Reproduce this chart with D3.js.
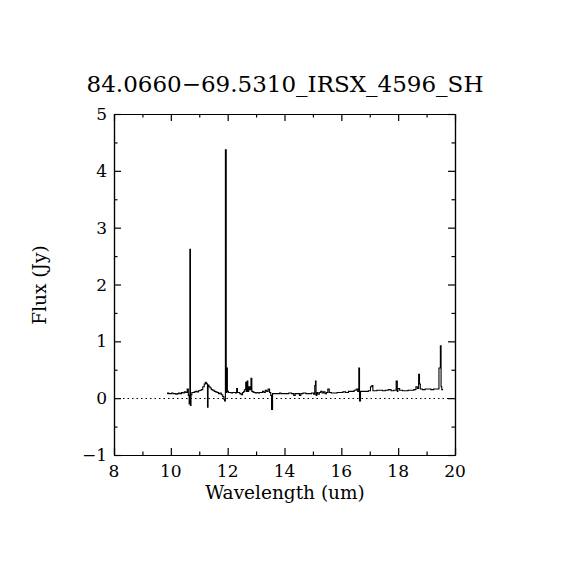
<!DOCTYPE html>
<html>
<head>
<meta charset="utf-8">
<script src="https://cdn.jsdelivr.net/npm/d3@7"></script>
<style>
  body { margin: 0; background: #fff; }
  text { font-family: "DejaVu Serif", "Liberation Serif", serif; fill: #000; }
</style>
</head>
<body>
<svg id="chart" width="570" height="570"></svg>
<script>
var title = '84.0660\u221269.5310_IRSX_4596_SH';
var xLabel = 'Wavelength (um)';
var yLabel = 'Flux (Jy)';

var xTicks = [8, 10, 12, 14, 16, 18, 20];
var yTicks = [-1, 0, 1, 2, 3, 4, 5];

// wavelength (um) and flux (Jy)
var wave = [
  9.87, 9.9, 9.95, 10.0, 10.05, 10.1, 10.15, 10.2, 10.25, 10.3, 10.35, 10.4, 10.45, 10.5, 10.55,
  10.6, 10.63, 10.66, 10.68, 10.7, 10.72, 10.76, 10.8, 10.85, 10.9, 10.95, 11.0, 11.05, 11.1,
  11.15, 11.2, 11.23, 11.26, 11.28, 11.3, 11.32, 11.36, 11.4, 11.45, 11.5, 11.55, 11.6, 11.65,
  11.7, 11.75, 11.8, 11.85, 11.88, 11.9, 11.94, 11.96, 11.98, 12.0, 12.05, 12.1, 12.15, 12.2,
  12.25, 12.3, 12.33, 12.36, 12.4, 12.45, 12.5, 12.55, 12.58, 12.62, 12.65, 12.67, 12.7, 12.72,
  12.76, 12.8, 12.84, 12.86, 12.9, 12.95, 13.0, 13.05, 13.1, 13.15, 13.2, 13.25, 13.3, 13.35,
  13.4, 13.45, 13.5, 13.53, 13.56, 13.6, 13.7, 13.8, 13.85, 13.9, 14.0, 14.1, 14.2, 14.3, 14.35,
  14.4, 14.5, 14.55, 14.6, 14.7, 14.8, 14.9, 15.0, 15.05, 15.08, 15.1, 15.12, 15.15, 15.2, 15.25,
  15.3, 15.35, 15.4, 15.45, 15.5, 15.55, 15.6, 15.7, 15.8, 15.9, 16.0, 16.1, 16.2, 16.3, 16.4,
  16.5, 16.55, 16.6, 16.63, 16.65, 16.7, 16.8, 16.9, 17.0, 17.05, 17.1, 17.12, 17.2, 17.3, 17.4,
  17.5, 17.6, 17.7, 17.8, 17.9, 17.96, 17.98, 18.0, 18.1, 18.2, 18.3, 18.4, 18.5, 18.6, 18.65,
  18.7, 18.74, 18.76, 18.8, 18.9, 19.0, 19.1, 19.2, 19.3, 19.4, 19.47, 19.5, 19.52, 19.55, 19.58
];
var flux = [
  0.08, 0.09, 0.08, 0.08, 0.09, 0.08, 0.08, 0.07, 0.08, 0.09, 0.08, 0.10, 0.09, 0.11, 0.10,
  0.16, 0.05, -0.10, 2.62, -0.13, 0.06, 0.10, 0.10, 0.11, 0.12, 0.11, 0.13, 0.14, 0.15,
  0.20, 0.25, 0.28, 0.26, 0.25, -0.16, 0.23, 0.20, 0.18, 0.15, 0.14, 0.12, 0.11, 0.10,
  0.08, 0.09, 0.06, 0.03, -0.02, -0.05, 4.37, 0.10, 0.53, 0.12, 0.10, 0.10, 0.09, 0.10,
  0.10, 0.09, 0.17, 0.10, 0.10, 0.08, 0.06, 0.10, 0.12, 0.15, 0.28, 0.12, 0.30, 0.12,
  0.20, 0.15, 0.35, 0.12, 0.11, 0.10, 0.09, 0.10, 0.09, 0.10, 0.10, 0.12, 0.10, 0.14,
  0.12, 0.16, 0.10, 0.05, -0.20, 0.08, 0.08, 0.08, 0.09, 0.08, 0.08, 0.08, 0.09, 0.08, 0.05,
  0.08, 0.08, 0.05, 0.08, 0.09, 0.08, 0.08, 0.09, 0.07, 0.22, 0.30, 0.05, 0.10, 0.07, 0.10,
  0.12, 0.09, 0.11, 0.08, 0.10, 0.16, 0.10, 0.09, 0.09, 0.10, 0.10, 0.11, 0.10, 0.12, 0.12,
  0.14, 0.16, 0.12, 0.53, -0.05, 0.12, 0.12, 0.12, 0.13, 0.20, 0.22, 0.13, 0.13, 0.14, 0.14,
  0.13, 0.14, 0.15, 0.13, 0.14, 0.30, 0.12, 0.17, 0.14, 0.13, 0.13, 0.14, 0.14, 0.15, 0.20,
  0.17, 0.42, 0.25, 0.16, 0.15, 0.16, 0.16, 0.15, 0.16, 0.16, 0.53, 0.92, 0.20, 0.15, 0.15
];

var mLeft = 114, mRight = 455, mTop = 114, mBottom = 455;

var svg = d3.select('#chart');

var x = d3.scaleLinear().domain([8, 20]).range([mLeft, mRight]);
var y = d3.scaleLinear().domain([-1, 5]).range([mBottom, mTop]);

// zero line
svg.append('line')
    .attr('x1', x(8)).attr('x2', x(20))
    .attr('y1', Math.round(y(0)) + 0.5).attr('y2', Math.round(y(0)) + 0.5)
    .attr('stroke', '#000')
    .attr('stroke-width', 1)
    .attr('stroke-dasharray', '1.5,3');

// spectrum
var line = d3.line()
    .x(function(d, i) { return x(wave[i]); })
    .y(function(d) { return y(d); })
    .curve(d3.curveStep);

svg.append('path')
    .datum(flux)
    .attr('d', line)
    .attr('fill', 'none')
    .attr('stroke', '#000')
    .attr('stroke-width', 1.1);

// frame with inward ticks on every side
var xMinor = d3.range(9, 20, 2);
var yMinor = d3.range(-0.5, 5, 1);

function frameAxis(axis, pos, ticks, size) {
  var horiz = (axis === d3.axisBottom || axis === d3.axisTop);
  var scale = horiz ? x : y;
  svg.append('g')
      .attr('transform', horiz ? 'translate(0,' + pos + ')' : 'translate(' + pos + ',0)')
      .call(axis(scale).tickValues(ticks).tickSize(-size).tickSizeOuter(0).tickFormat(''));
}
frameAxis(d3.axisBottom, mBottom, xTicks, 7);
frameAxis(d3.axisBottom, mBottom, xMinor, 3.5);
frameAxis(d3.axisTop, mTop, xTicks, 7);
frameAxis(d3.axisTop, mTop, xMinor, 3.5);
frameAxis(d3.axisLeft, mLeft, yTicks, 7);
frameAxis(d3.axisLeft, mLeft, yMinor, 3.5);
frameAxis(d3.axisRight, mRight, yTicks, 7);
frameAxis(d3.axisRight, mRight, yMinor, 3.5);

svg.selectAll('.domain').attr('stroke', '#000').attr('stroke-width', 1.2);
svg.selectAll('.tick line').attr('stroke', '#000').attr('stroke-width', 1.2);

// tick labels
svg.append('g').selectAll('text')
    .data(xTicks)
    .join('text')
    .attr('x', function(d) { return x(d); })
    .attr('y', mBottom + 22)
    .attr('text-anchor', 'middle')
    .attr('font-size', 17)
    .text(function(d) { return d; });

svg.append('g').selectAll('text')
    .data(yTicks)
    .join('text')
    .attr('x', mLeft - 7)
    .attr('y', function(d) { return y(d) + 6; })
    .attr('text-anchor', 'end')
    .attr('font-size', 17)
    .text(function(d) { return d < 0 ? '\u2212' + (-d) : d; });

// titles
svg.append('text')
    .attr('x', 285).attr('y', 92)
    .attr('text-anchor', 'middle')
    .attr('font-size', 23)
    .text(title);

svg.append('text')
    .attr('x', 285).attr('y', 499)
    .attr('text-anchor', 'middle')
    .attr('font-size', 18.5)
    .text(xLabel);

svg.append('text')
    .attr('transform', 'translate(46,285) rotate(-90)')
    .attr('text-anchor', 'middle')
    .attr('font-size', 18.5)
    .text(yLabel);
</script>
</body>
</html>
